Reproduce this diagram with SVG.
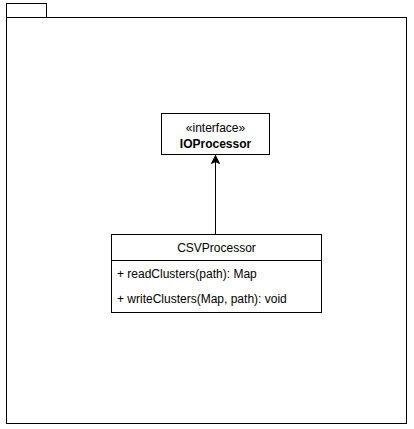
<svg xmlns="http://www.w3.org/2000/svg" width="414" height="429" viewBox="0 0 414 429">
<style>
.s{fill:#fff;stroke:#000;stroke-width:1}
.t{font-family:"Liberation Sans",Arial,sans-serif;font-size:12px;fill:#000}
.c{text-anchor:middle}
</style>
<defs>
<marker id="arr" markerWidth="10" markerHeight="10" refX="8" refY="5" orient="auto" markerUnits="userSpaceOnUse">
<path d="M0,1 L8,5 L0,9 L2,5 Z" fill="#000" stroke="#000" stroke-width="1"/>
</marker>
</defs>
<rect width="414" height="429" fill="#fff"/>
<g id="package">
<rect class="s" x="6.5" y="3.5" width="40" height="14"/>
<rect class="s" x="6.5" y="17.5" width="400" height="406"/>
</g>
<g id="connectors">
<line x1="215.5" y1="234.5" x2="215.5" y2="155.5" stroke="#000" stroke-width="1" marker-end="url(#arr)"/>
</g>
<g id="IOProcessor">
<rect class="s" x="161.5" y="113.5" width="108" height="41"/>
<text class="t c" x="215.5" y="132" font-size="11">«interface»</text>
<text class="t c" x="215.5" y="148" font-weight="bold">IOProcessor</text>
</g>
<g id="CSVProcessor">
<rect class="s" x="111.5" y="234.5" width="210" height="78"/>
<line x1="111.5" y1="260.5" x2="321.5" y2="260.5" stroke="#000"/>
<text class="t c" x="216.5" y="252">CSVProcessor</text>
<text class="t" x="117" y="278">+ readClusters(path): Map</text>
<text class="t" x="117" y="303">+ writeClusters(Map, path): void</text>
</g>
</svg>
